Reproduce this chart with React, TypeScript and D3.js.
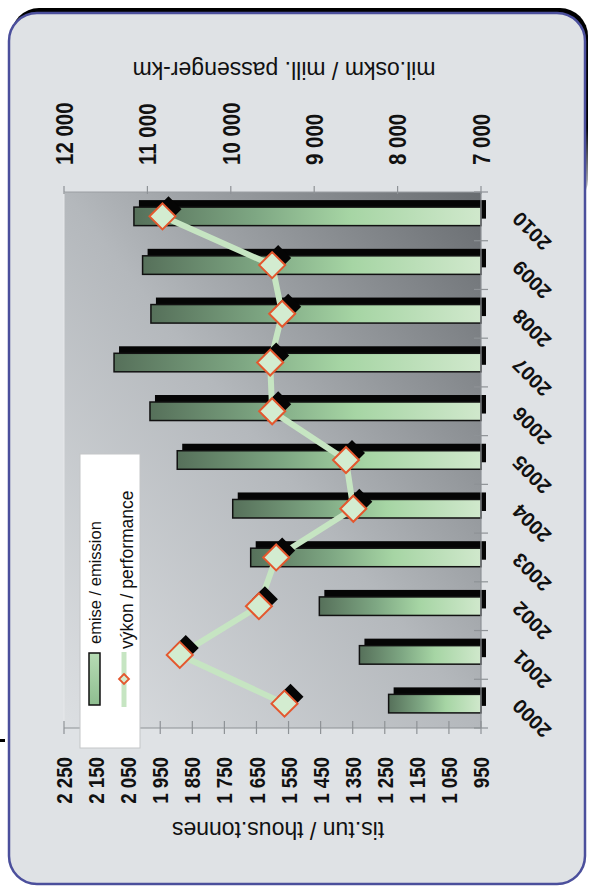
import React from "react";
import * as d3 from "d3";

const years = ["2000", "2001", "2002", "2003", "2004", "2005", "2006", "2007", "2008", "2009", "2010"];
const emission = [1238, 1329, 1454, 1668, 1724, 1897, 1982, 2094, 1979, 2005, 2032];
const performance = [9356, 10612, 9663, 9456, 8531, 8619, 9504, 9528, 9384, 9504, 10819];
const emissionTicks = d3.range(950, 2251, 100);
const performanceTicks = d3.range(7000, 12001, 1000);
const emissionTitle = "tis.tun / thous.tonnes";
const performanceTitle = "mil.oskm / mill. passenger-km";
const legendLabels = ["emise / emission", "výkon / performance"];

const W = 589;
const H = 888;
const plot = { left: 64, right: 481, top: 192, bottom: 728 };

const fmt = d3
  .formatLocale({ decimal: ",", thousands: " ", grouping: [3], currency: ["", ""] })
  .format(",");

export default function App() {
  const xE = d3.scaleLinear().domain([950, 2250]).range([plot.right, plot.left]);
  const xP = d3.scaleLinear().domain([7000, 12000]).range([plot.right, plot.left]);
  const y = d3
    .scaleBand<string>()
    .domain(years)
    .range([plot.bottom, plot.top])
    .paddingInner(0.62)
    .paddingOuter(0.31);
  const bw = y.bandwidth();
  const step = y.step();
  const cy = (yr: string) => (y(yr) as number) + bw / 2;

  const pts = years.map((yr, i) => ({ yr, v: performance[i] }));
  const line = d3
    .line<{ yr: string; v: number }>()
    .x((d) => xP(d.v))
    .y((d) => cy(d.yr));

  const diamond = (r: number) => `M0,${-r}L${r},0L0,${r}L${-r},0Z`;
  const font = "Liberation Sans, Arial, Helvetica, sans-serif";
  const sx = 1.2;

  const bounds = d3.range(years.length + 1).map((i) => plot.bottom - i * step);

  return (
    <div style={{ position: "absolute", left: 0, top: 0 }}>
      <svg width={W} height={H} style={{ display: "block" }} fontFamily={font}>
        <defs>
          <linearGradient id="plotBg" x1="0" y1="1" x2="1" y2="0">
            <stop offset="0" stopColor="#dcdfe2" />
            <stop offset="0.5" stopColor="#b4b8bc" />
            <stop offset="1" stopColor="#686c70" />
          </linearGradient>
          <linearGradient id="barGrad" x1="0" y1="0" x2="1" y2="0">
            <stop offset="0" stopColor="#56705a" />
            <stop offset="0.35" stopColor="#7ea783" />
            <stop offset="0.62" stopColor="#a6d5a4" />
            <stop offset="1" stopColor="#d0e8cc" />
          </linearGradient>
          <linearGradient id="legGrad" x1="0" y1="0" x2="0" y2="1">
            <stop offset="0" stopColor="#b6dcb4" />
            <stop offset="1" stopColor="#8fbe90" />
          </linearGradient>
          <linearGradient id="shadowFade" x1="0" y1="0" x2="0" y2="1">
            <stop offset="0" stopColor="#000" stopOpacity={1} />
            <stop offset="0.6" stopColor="#000" stopOpacity={1} />
            <stop offset="1" stopColor="#000" stopOpacity={0} />
          </linearGradient>
        </defs>

        {/* frame */}
        <rect x={11} y={8} width={577} height={200} rx={28} fill="url(#shadowFade)" />
        <rect x={9} y={13} width={576} height={871} rx={28} fill="#dfe2e5" stroke="#4b4f9c" strokeWidth={2.5} />
        <rect x={0} y={739} width={5} height={3} fill="#000" />

        {/* plot area */}
        <rect
          x={plot.left}
          y={plot.top}
          width={plot.right - plot.left}
          height={plot.bottom - plot.top}
          fill="url(#plotBg)"
        />
        <line x1={plot.left} x2={plot.right} y1={plot.top} y2={plot.top} stroke="#9a9ea2" strokeWidth={1} />
        <line x1={plot.left} x2={plot.left} y1={plot.top} y2={plot.bottom} stroke="#e6e8ea" strokeWidth={1} />

        {/* bars */}
        {years.map((yr, i) => {
          const x0 = xE(emission[i]);
          const yy = y(yr) as number;
          return (
            <g key={"b" + yr}>
              <rect x={x0 + 5} y={yy - 7} width={plot.right - x0} height={bw} fill="#050505" />
              <rect
                x={x0}
                y={yy}
                width={plot.right - x0}
                height={bw}
                fill="url(#barGrad)"
                stroke="#111"
                strokeWidth={1.5}
              />
            </g>
          );
        })}

        {/* axes lines and ticks */}
        <line x1={plot.left} x2={plot.right} y1={plot.bottom} y2={plot.bottom} stroke="#8e9296" strokeWidth={1.2} />
        {emissionTicks.map((t) => (
          <line key={"et" + t} x1={xE(t)} x2={xE(t)} y1={plot.bottom - 7} y2={plot.bottom + 6} stroke="#8e9296" strokeWidth={1.2} />
        ))}
        <line x1={plot.right} x2={plot.right} y1={plot.top} y2={plot.bottom} stroke="#8e9296" strokeWidth={1.2} />
        {bounds.map((b, i) => (
          <line key={"yt" + i} x1={plot.right - 7} x2={plot.right + 7} y1={b} y2={b} stroke="#8e9296" strokeWidth={1.2} />
        ))}
        {performanceTicks.map((t) => (
          <line key={"pt" + t} x1={xP(t)} x2={xP(t)} y1={plot.top - 6} y2={plot.top + 2} stroke="#8e9296" strokeWidth={1.2} />
        ))}

        {/* performance line */}
        <path d={line(pts) as string} fill="none" stroke="#c6e5c2" strokeWidth={6} strokeLinejoin="round" />
        {pts.map((d) => (
          <path key={"ds" + d.yr} d={diamond(13)} transform={`translate(${xP(d.v) + 6},${cy(d.yr) - 7})`} fill="#050505" />
        ))}
        {pts.map((d) => (
          <path
            key={"d" + d.yr}
            d={diamond(13)}
            transform={`translate(${xP(d.v)},${cy(d.yr)})`}
            fill="#d3ecd0"
            stroke="#e4572e"
            strokeWidth={2}
          />
        ))}

        {/* legend */}
        <rect x={80} y={454} width={60} height={294} fill="#ffffff" stroke="#c4c6c8" strokeWidth={1} />
        <rect x={89} y={653} width={11} height={52} fill="url(#legGrad)" stroke="#111" strokeWidth={1.5} />
        <text transform={`translate(95.5,644) rotate(-90)`} dy="0.35em" fontSize={16.5} fill="#111">
          {legendLabels[0]}
        </text>
        <line x1={124} x2={124} y1={652} y2={707} stroke="#c6e5c2" strokeWidth={5} />
        <path d={diamond(5)} transform="translate(124,679)" fill="#d3ecd0" stroke="#e4572e" strokeWidth={1.8} />
        <text transform={`translate(126.5,649) rotate(-90)`} dy="0.35em" fontSize={17.5} fill="#111">
          {legendLabels[1]}
        </text>

        {/* bottom tick labels */}
        {emissionTicks.map((t) => (
          <text
            key={"el" + t}
            transform={`translate(${xE(t)},757) scale(${sx},1) rotate(-90)`}
            dy="0.36em"
            textAnchor="end"
            fontSize={18.7}
            fontWeight="bold"
            fill="#111"
          >
            {fmt(t)}
          </text>
        ))}
        {/* top tick labels */}
        {performanceTicks.map((t) => (
          <text
            key={"pl" + t}
            transform={`translate(${xP(t)},165) scale(${sx},1) rotate(-90)`}
            dy="0.36em"
            textAnchor="start"
            fontSize={20.5}
            fontWeight="bold"
            fill="#111"
          >
            {fmt(t)}
          </text>
        ))}
        {/* year labels */}
        {years.map((yr) => (
          <text
            key={"yl" + yr}
            transform={`translate(516,${cy(yr) - 1}) rotate(-135)`}
            dy="0.35em"
            textAnchor="end"
            fontSize={20}
            fontWeight="bold"
            fill="#111"
          >
            {yr}
          </text>
        ))}

        {/* axis titles */}
        <text transform={`translate(284,62) rotate(180)`} textAnchor="middle" fontSize={23} fill="#111">
          {performanceTitle}
        </text>
        <text transform={`translate(278,822) rotate(180)`} textAnchor="middle" fontSize={23} fill="#111">
          {emissionTitle}
        </text>
      </svg>
    </div>
  );
}
